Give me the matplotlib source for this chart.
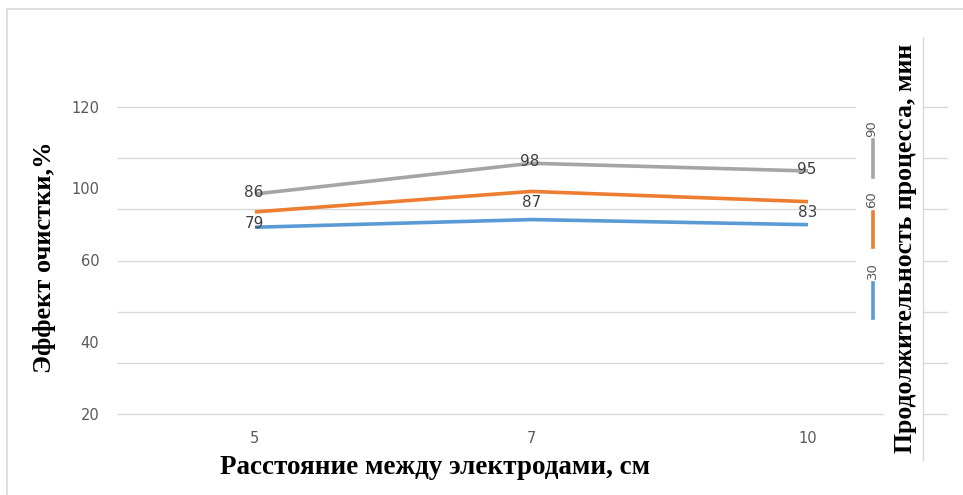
import matplotlib.pyplot as plt
from matplotlib.lines import Line2D

# Данные
distances = ['5', '7', '10']
series_names = ['30', '60', '90']
blue_30 = [73, 76, 74]
orange_60 = [79, 87, 83]
gray_90 = [86, 98, 95]
colors = ['#5b9bd5', '#ed7d31', '#a5a5a5']

# подписи оси Y (как на исходной картинке)
ytick_pos = [120, 88.3, 60, 28.2, 0]
ytick_labels = ['120', '100', '60', '40', '20']
grid_pos = [0, 20, 40, 60, 80, 100, 120]

W, H = 963, 495
fig = plt.figure(figsize=(W / 100, H / 100), dpi=100)
ax = fig.add_axes([118 / W, 1 - 414 / H, 737 / W, 307 / H])

x = range(len(distances))
for vals, c in zip([blue_30, orange_60, gray_90], colors):
    ax.plot(x, vals, color=c, lw=2.6, solid_capstyle='butt', zorder=3)

lbl = dict(ha='center', va='center', fontsize=11, color='#404040', zorder=4)
for i, v in enumerate(gray_90):
    ax.annotate(str(v), (i, v), xytext=(-1, 1), textcoords='offset points', **lbl)
for i, v in enumerate(orange_60):
    ax.annotate(str(v), (i, v), xytext=(0, -8), textcoords='offset points', **lbl)

ax.set_xlim(-0.495, 2.17)
ax.set_ylim(0, 120)
ax.set_xticks(list(x))
ax.set_xticklabels(distances)
ax.set_yticks(ytick_pos)
ax.set_yticklabels(ytick_labels)
ax.set_yticks(grid_pos, minor=True)
ax.tick_params(axis='both', which='both', length=0, labelsize=10.5, labelcolor='#595959')
ax.tick_params(axis='x', pad=12)
ax.tick_params(axis='y', pad=13.5)
for s in ax.spines.values():
    s.set_visible(False)

for g in grid_pos:
    xmax = 1.038 if g <= 20 else 1.0
    ax.axhline(g, xmin=0, xmax=xmax, color='#d9d9d9', lw=1, clip_on=False, zorder=1)
    ax.axhline(g, xmin=1.092, xmax=1.125, color='#d9d9d9', lw=1, clip_on=False, zorder=1)

serif = dict(family='Liberation Serif', fontweight='bold', color='black')
fig.text(435 / W, 1 - 468 / H, 'Расстояние между электродами, см', ha='center', va='center',
         fontsize=19.5, **serif)
fig.text(45 / W, 1 - 257 / H, 'Эффект очистки,%', rotation=90, ha='center', va='center',
         fontsize=19, **serif)
fig.text(905 / W, 1 - 248 / H, 'Продолжительность процесса, мин', rotation=90,
         ha='center', va='center', fontsize=18.5, **serif)

# легенда (повёрнутая)
leg_y = [(283, 318, 271), (212, 247, 200), (140, 177, 129)]
for name, c, (y0, y1, yt) in zip(series_names, colors, leg_y):
    fig.add_artist(Line2D([873 / W, 873 / W], [1 - y0 / H, 1 - y1 / H], color=c, lw=2.6))
    fig.text(872 / W, 1 - yt / H, name, rotation=90, ha='center', va='center',
             fontsize=9.5, color='#595959')

# рамка
bc = '#d9d9d9'
fig.add_artist(Line2D([7 / W, 1], [1 - 9 / H, 1 - 9 / H], color=bc, lw=1.2))
fig.add_artist(Line2D([7 / W, 7 / W], [0, 1 - 9 / H], color=bc, lw=1.2))
fig.add_artist(Line2D([923 / W, 923 / W], [1 - 460 / H, 1 - 37 / H], color=bc, lw=1))

fig.savefig('out.png', dpi=100)
